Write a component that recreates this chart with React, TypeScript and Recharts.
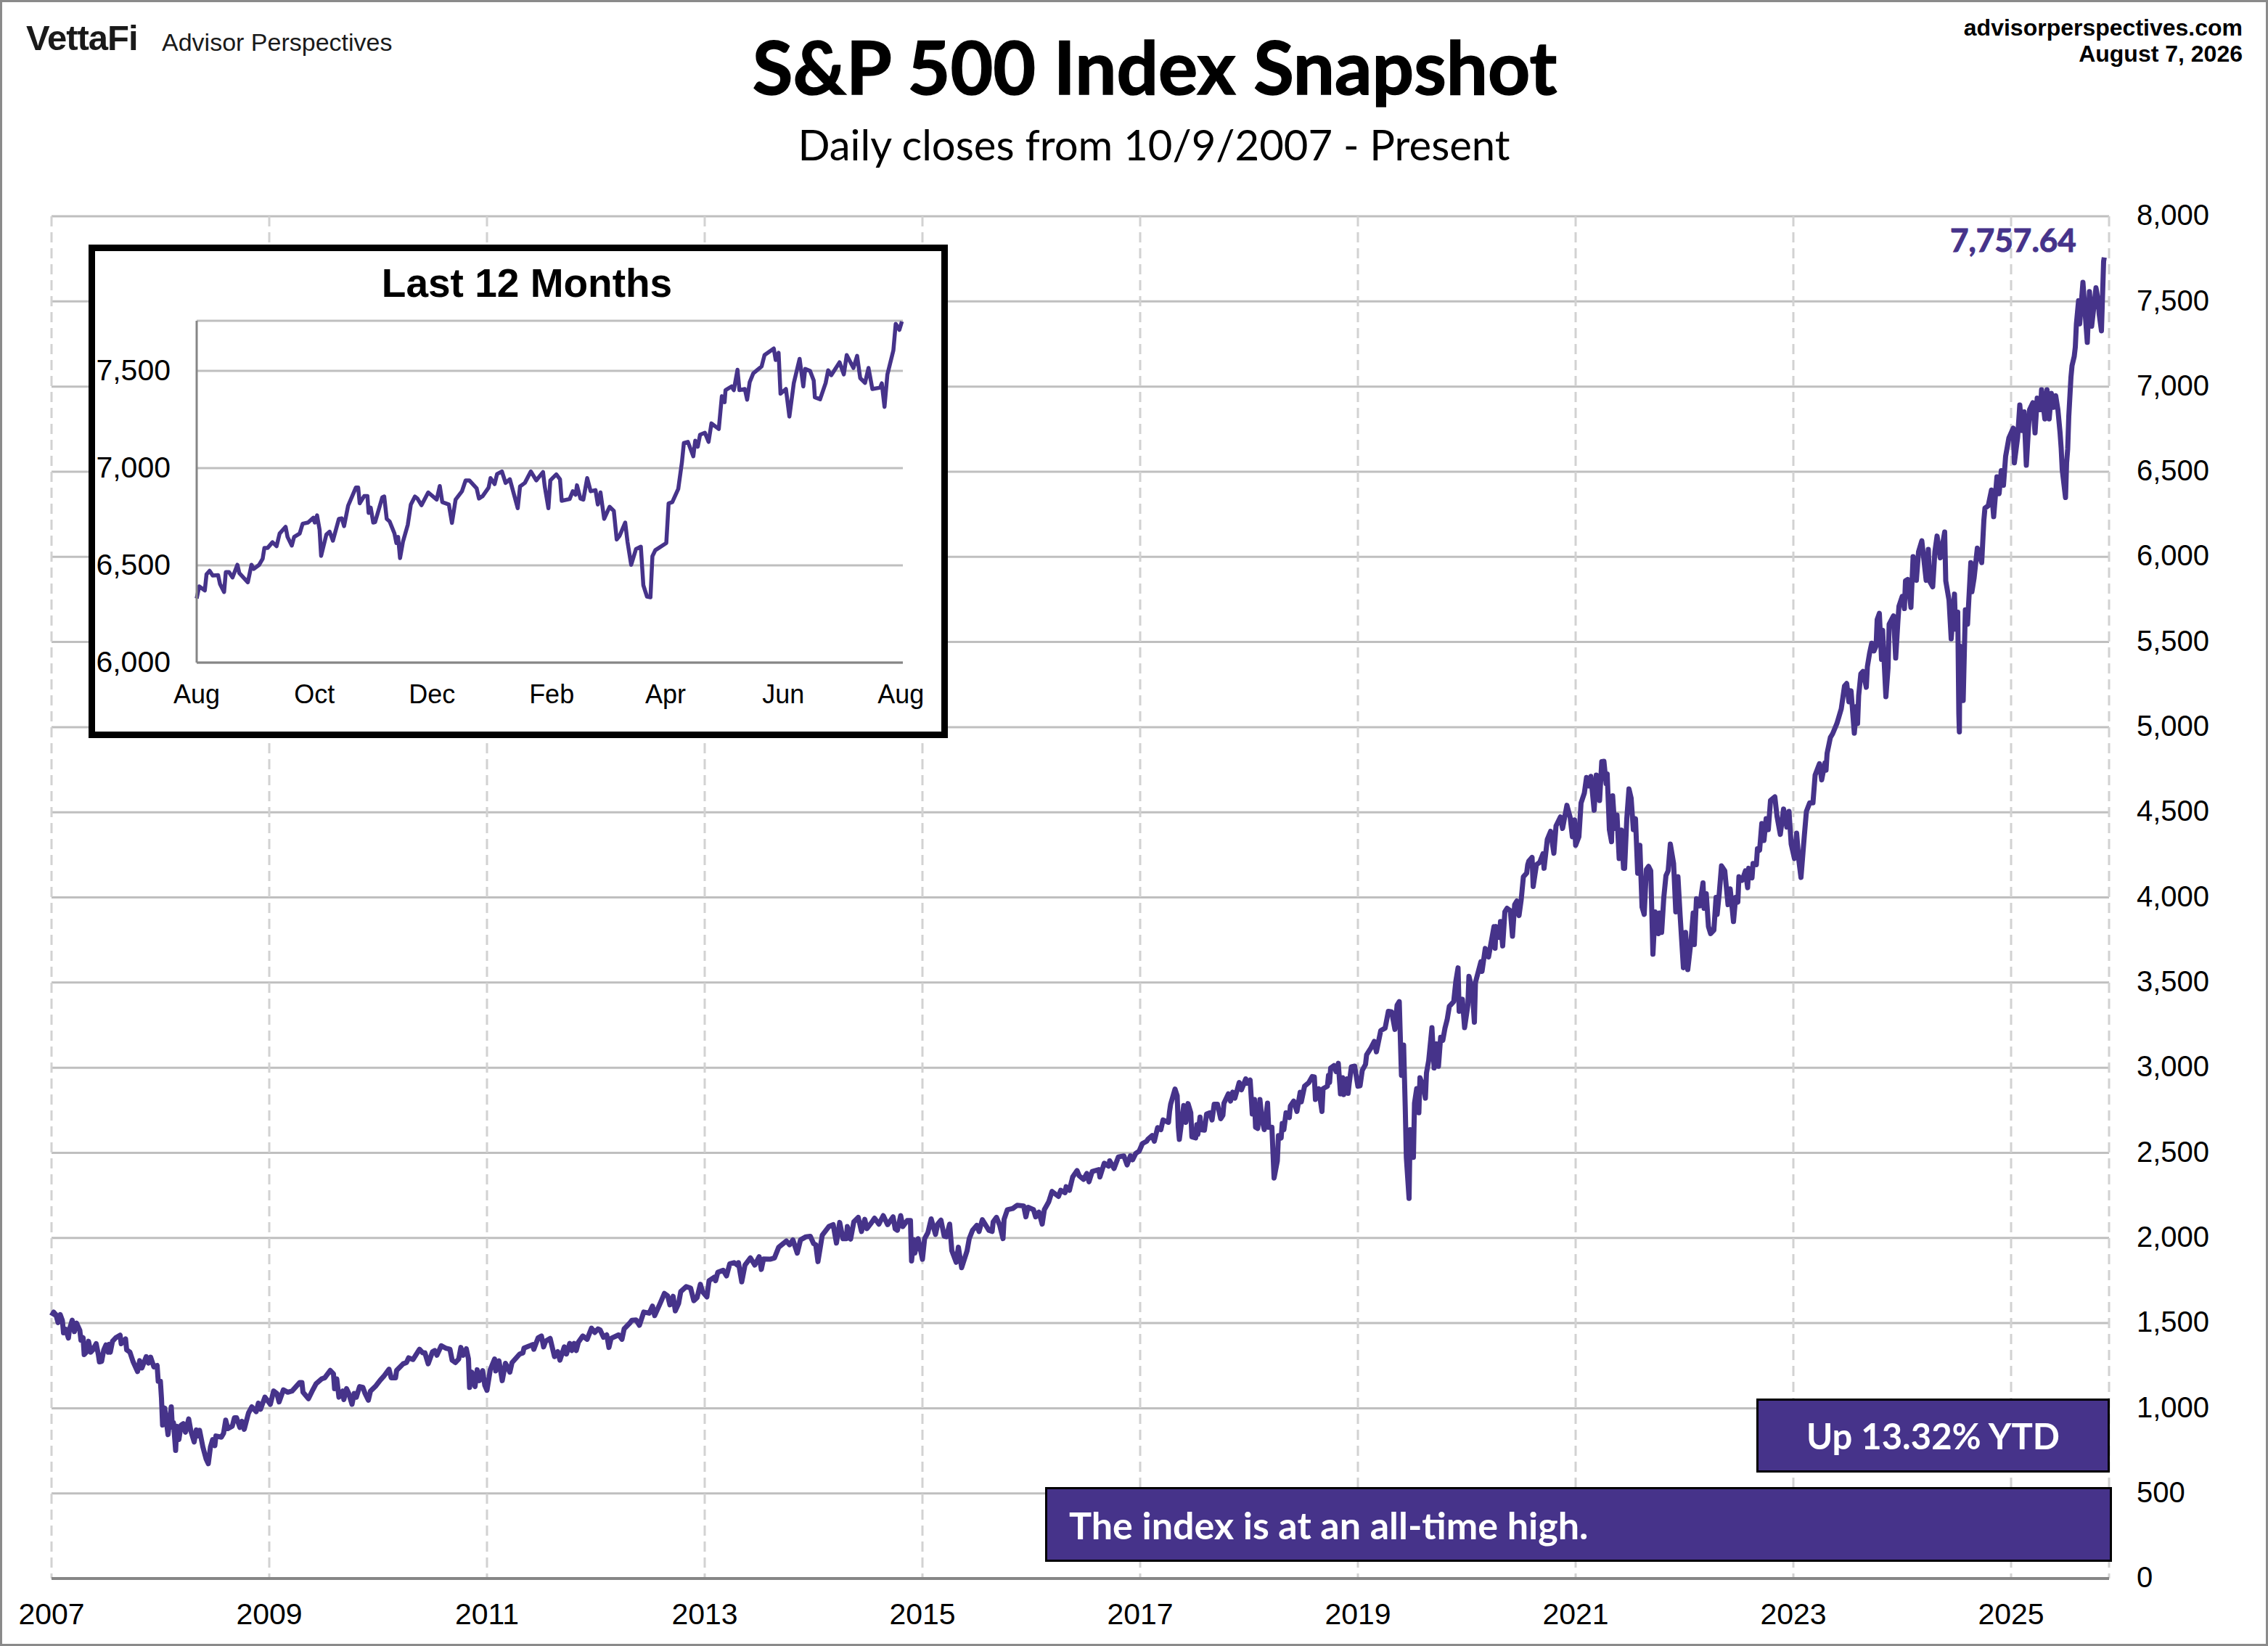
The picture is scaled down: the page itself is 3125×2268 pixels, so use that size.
import { CartesianGrid, Line, LineChart, XAxis, YAxis } from "recharts";

// [position on the year axis, close]
const closes2007to2010: number[][] = [
  [2007.0, 1543], [2007.02, 1564], [2007.04, 1550], [2007.06, 1503], [2007.08, 1550], [2007.1, 1514], [2007.11, 1443], [2007.13, 1464],
  [2007.155, 1412], [2007.165, 1464], [2007.19, 1517], [2007.21, 1450], [2007.23, 1500], [2007.26, 1457], [2007.27, 1400], [2007.29, 1414],
  [2007.3, 1315], [2007.32, 1329], [2007.34, 1393], [2007.36, 1329], [2007.38, 1343], [2007.41, 1379], [2007.43, 1315], [2007.44, 1272],
  [2007.46, 1275], [2007.48, 1343], [2007.5, 1372], [2007.52, 1329], [2007.53, 1375], [2007.54, 1329], [2007.56, 1393], [2007.59, 1414],
  [2007.63, 1429], [2007.64, 1379], [2007.68, 1407], [2007.69, 1343], [2007.72, 1329], [2007.75, 1272], [2007.79, 1215], [2007.81, 1279],
  [2007.83, 1236], [2007.87, 1303], [2007.89, 1265], [2007.91, 1300], [2007.94, 1243], [2007.97, 1251], [2007.98, 1158], [2008.0, 1158],
  [2008.01, 1058], [2008.02, 901], [2008.04, 1001], [2008.07, 845], [2008.1, 1008], [2008.11, 887], [2008.12, 916], [2008.14, 752],
  [2008.15, 894], [2008.17, 816], [2008.19, 901], [2008.21, 909], [2008.23, 859], [2008.26, 937], [2008.28, 866], [2008.31, 802],
  [2008.33, 873], [2008.34, 837], [2008.36, 870], [2008.39, 773], [2008.42, 702], [2008.44, 674], [2008.46, 773], [2008.48, 816],
  [2008.5, 780], [2008.51, 837], [2008.56, 830], [2008.58, 852], [2008.6, 930], [2008.62, 880], [2008.66, 894], [2008.68, 944],
  [2008.7, 944], [2008.73, 887], [2008.75, 923], [2008.77, 876], [2008.81, 973], [2008.84, 1008], [2008.88, 980], [2008.9, 1030],
  [2008.92, 994], [2008.96, 1065], [2009.01, 1023], [2009.04, 1101], [2009.07, 1087], [2009.09, 1037], [2009.13, 1108], [2009.17, 1094],
  [2009.21, 1101], [2009.28, 1151], [2009.3, 1151], [2009.31, 1094], [2009.36, 1056], [2009.4, 1108], [2009.43, 1144], [2009.48, 1172],
  [2009.51, 1179], [2009.56, 1222], [2009.59, 1201], [2009.6, 1115], [2009.62, 1172], [2009.64, 1065], [2009.675, 1101], [2009.685, 1051],
  [2009.71, 1115], [2009.73, 1087], [2009.76, 1023], [2009.78, 1087], [2009.8, 1065], [2009.83, 1127], [2009.86, 1122], [2009.88, 1087],
  [2009.91, 1047], [2009.93, 1101], [2009.98, 1132], [2010.02, 1165], [2010.05, 1186], [2010.1, 1229], [2010.12, 1179], [2010.16, 1179],
  [2010.17, 1222], [2010.23, 1261],
];

const closes2010to2013: number[][] = [
  [2010.26, 1268], [2010.28, 1296], [2010.32, 1286], [2010.38, 1346], [2010.41, 1325], [2010.43, 1325], [2010.46, 1261], [2010.5, 1332],
  [2010.52, 1339], [2010.54, 1311], [2010.58, 1367], [2010.62, 1353], [2010.66, 1346], [2010.68, 1282], [2010.71, 1268], [2010.74, 1289],
  [2010.76, 1357], [2010.78, 1311], [2010.81, 1349], [2010.83, 1289], [2010.84, 1122], [2010.86, 1212], [2010.89, 1127], [2010.91, 1226],
  [2010.93, 1162], [2010.96, 1221], [2010.98, 1134], [2011.0, 1105], [2011.03, 1226], [2011.07, 1289], [2011.08, 1219], [2011.11, 1278],
  [2011.14, 1162], [2011.17, 1264], [2011.21, 1212], [2011.23, 1268], [2011.3, 1318], [2011.33, 1325], [2011.34, 1353], [2011.42, 1374],
  [2011.43, 1346], [2011.47, 1414], [2011.5, 1424], [2011.52, 1360], [2011.54, 1395], [2011.58, 1410], [2011.62, 1303], [2011.65, 1332],
  [2011.67, 1282], [2011.71, 1360], [2011.73, 1318], [2011.76, 1381], [2011.78, 1339], [2011.8, 1381], [2011.82, 1339], [2011.84, 1388],
  [2011.88, 1424], [2011.92, 1405], [2011.96, 1470], [2011.99, 1445], [2012.02, 1466], [2012.04, 1459], [2012.07, 1417], [2012.1, 1431],
  [2012.12, 1357], [2012.14, 1410], [2012.21, 1431], [2012.24, 1405], [2012.26, 1466], [2012.31, 1499], [2012.33, 1516], [2012.37, 1518],
  [2012.4, 1487], [2012.44, 1565], [2012.49, 1558], [2012.52, 1600], [2012.54, 1544], [2012.59, 1615], [2012.63, 1674], [2012.66, 1660],
  [2012.68, 1607], [2012.71, 1657], [2012.73, 1572], [2012.76, 1615], [2012.78, 1685], [2012.83, 1714], [2012.87, 1706], [2012.9, 1632],
  [2012.93, 1650], [2012.96, 1728], [2012.98, 1685], [2013.02, 1654], [2013.04, 1749], [2013.09, 1770], [2013.1, 1749], [2013.12, 1798],
  [2013.17, 1810], [2013.2, 1777], [2013.23, 1848], [2013.27, 1855], [2013.3, 1841], [2013.31, 1855], [2013.34, 1742], [2013.37, 1841],
  [2013.42, 1883], [2013.46, 1841], [2013.5, 1890], [2013.52, 1815], [2013.54, 1876],
];

const closes2013to2016: number[][] = [
  [2013.6, 1875], [2013.64, 1882], [2013.68, 1946], [2013.75, 1982], [2013.78, 1960], [2013.81, 1989], [2013.85, 1911], [2013.88, 1989],
  [2013.93, 2007], [2013.97, 2010], [2014.0, 1967], [2014.02, 1960], [2014.04, 1861], [2014.08, 2017], [2014.14, 2067], [2014.18, 2078],
  [2014.21, 1970], [2014.24, 2091], [2014.27, 1996], [2014.3, 1996], [2014.31, 2067], [2014.34, 1993], [2014.37, 2095], [2014.41, 2121],
  [2014.44, 2038], [2014.47, 2109], [2014.49, 2055], [2014.53, 2088], [2014.56, 2116], [2014.6, 2081], [2014.64, 2131], [2014.68, 2078],
  [2014.73, 2124], [2014.75, 2053], [2014.77, 2045], [2014.8, 2131], [2014.82, 2067], [2014.86, 2102], [2014.89, 2102], [2014.9, 1865],
  [2014.92, 1989], [2014.93, 1911], [2014.96, 1996], [2014.97, 1967], [2015.0, 1875], [2015.02, 1996], [2015.05, 2031], [2015.08, 2112],
  [2015.12, 2021], [2015.14, 2081], [2015.17, 2105], [2015.2, 2010], [2015.22, 2007], [2015.25, 2081], [2015.27, 1925], [2015.31, 1857],
  [2015.33, 1946], [2015.36, 1825], [2015.41, 1925], [2015.43, 1996], [2015.46, 2045], [2015.5, 2074], [2015.52, 2038], [2015.55, 2107],
  [2015.61, 2045], [2015.64, 2038], [2015.65, 2095], [2015.68, 2121], [2015.71, 2074], [2015.74, 1996], [2015.75, 2109], [2015.78, 2166],
  [2015.83, 2173], [2015.87, 2192], [2015.93, 2188], [2015.95, 2124], [2015.97, 2180], [2016.02, 2166], [2016.04, 2124], [2016.07, 2152],
  [2016.1, 2081], [2016.12, 2166], [2016.16, 2212], [2016.19, 2273], [2016.25, 2244], [2016.27, 2280], [2016.31, 2266], [2016.32, 2301],
  [2016.35, 2280], [2016.38, 2358], [2016.42, 2396], [2016.44, 2365], [2016.48, 2344], [2016.51, 2379], [2016.53, 2330], [2016.56, 2391],
  [2016.62, 2401], [2016.63, 2358], [2016.67, 2439], [2016.71, 2422], [2016.72, 2453], [2016.76, 2408], [2016.8, 2476], [2016.85, 2482],
  [2016.88, 2429], [2016.91, 2482],
];

const closes2017to2020: number[][] = [
  [2016.93, 2459], [2016.96, 2497], [2016.99, 2509], [2017.02, 2554], [2017.06, 2568], [2017.07, 2579], [2017.11, 2601], [2017.13, 2568],
  [2017.16, 2648], [2017.19, 2636], [2017.21, 2693], [2017.26, 2679], [2017.27, 2743], [2017.28, 2785], [2017.32, 2874], [2017.34, 2835],
  [2017.35, 2650], [2017.36, 2579], [2017.4, 2778], [2017.42, 2679], [2017.44, 2789], [2017.465, 2735], [2017.475, 2594], [2017.51, 2587],
  [2017.52, 2665], [2017.53, 2608], [2017.55, 2710], [2017.56, 2636], [2017.59, 2633], [2017.61, 2728], [2017.64, 2735], [2017.66, 2693],
  [2017.68, 2785], [2017.71, 2785], [2017.74, 2700], [2017.76, 2721], [2017.77, 2792], [2017.81, 2846], [2017.83, 2804], [2017.85, 2856],
  [2017.87, 2821], [2017.91, 2913], [2017.93, 2870], [2017.97, 2934], [2017.98, 2908], [2018.01, 2927], [2018.03, 2728], [2018.05, 2813],
  [2018.06, 2650], [2018.08, 2643], [2018.1, 2813], [2018.12, 2693], [2018.14, 2636], [2018.17, 2792], [2018.18, 2650], [2018.21, 2650],
  [2018.23, 2352], [2018.26, 2452], [2018.27, 2601], [2018.295, 2587], [2018.305, 2672], [2018.32, 2636], [2018.34, 2735], [2018.37, 2707],
  [2018.38, 2775], [2018.41, 2804], [2018.44, 2743], [2018.47, 2856], [2018.48, 2799], [2018.51, 2891], [2018.55, 2913], [2018.58, 2948],
  [2018.6, 2945], [2018.61, 2813], [2018.64, 2877], [2018.67, 2743], [2018.68, 2877], [2018.72, 2891], [2018.73, 2955], [2018.74, 2913],
  [2018.75, 2998], [2018.78, 3012], [2018.8, 2977], [2018.82, 3026], [2018.84, 2846], [2018.86, 2941], [2018.87, 2842], [2018.9, 2934],
  [2018.91, 2849], [2018.92, 2906], [2018.94, 3005], [2018.97, 3009], [2019.0, 2891], [2019.02, 2894], [2019.04, 2984], [2019.07, 3019],
  [2019.08, 3076], [2019.12, 3116], [2019.15, 3154], [2019.17, 3093], [2019.21, 3218], [2019.25, 3232], [2019.28, 3331], [2019.31, 3328],
  [2019.34, 3225], [2019.36, 3367], [2019.38, 3388], [2019.4, 2955], [2019.42, 3133], [2019.435, 2764], [2019.445, 2473], [2019.47, 2232],
  [2019.48, 2636], [2019.51, 2473], [2019.52, 2792], [2019.54, 2877], [2019.56, 2735], [2019.57, 2941], [2019.6, 2891], [2019.62, 2821],
  [2019.63, 2969], [2019.65, 3040], [2019.68, 3235], [2019.7, 2998], [2019.72, 3140], [2019.74, 3008], [2019.76, 3178], [2019.78, 3161],
  [2019.8, 3232], [2019.82, 3282], [2019.84, 3360], [2019.88, 3388], [2019.9, 3508], [2019.92, 3586], [2019.93, 3331], [2019.96, 3402],
  [2019.98, 3235], [2020.01, 3367], [2020.02, 3537], [2020.05, 3459], [2020.07, 3267], [2020.08, 3501], [2020.13, 3622], [2020.14, 3565],
  [2020.17, 3700], [2020.2, 3650], [2020.22, 3721], [2020.25, 3828],
];

const closes2020to2023: number[][] = [
  [2020.26, 3701], [2020.27, 3829], [2020.3, 3765], [2020.31, 3858], [2020.33, 3715], [2020.35, 3915], [2020.37, 3936], [2020.4, 3922],
  [2020.42, 3772], [2020.44, 3957], [2020.46, 3979], [2020.48, 3893], [2020.5, 3986], [2020.52, 4121], [2020.55, 4142], [2020.56, 4192],
  [2020.57, 4213], [2020.6, 4235], [2020.61, 4064], [2020.64, 4192], [2020.67, 4206], [2020.7, 4256], [2020.71, 4171], [2020.74, 4341],
  [2020.77, 4388], [2020.8, 4259], [2020.82, 4420], [2020.86, 4472], [2020.88, 4405], [2020.92, 4541], [2020.95, 4469], [2020.97, 4356],
  [2020.99, 4455], [2021.0, 4306], [2021.03, 4356], [2021.05, 4555], [2021.08, 4612], [2021.1, 4704], [2021.12, 4654], [2021.14, 4711],
  [2021.17, 4512], [2021.19, 4718], [2021.22, 4569], [2021.24, 4797], [2021.26, 4799], [2021.28, 4669], [2021.29, 4725], [2021.31, 4398],
  [2021.33, 4327], [2021.34, 4597], [2021.36, 4405], [2021.38, 4484], [2021.4, 4228], [2021.42, 4395], [2021.44, 4171], [2021.45, 4171],
  [2021.47, 4462], [2021.49, 4637], [2021.51, 4583], [2021.53, 4398], [2021.55, 4462], [2021.57, 4142], [2021.59, 4306], [2021.61, 3943],
  [2021.63, 3900], [2021.65, 4164], [2021.67, 4182], [2021.69, 4156], [2021.71, 3666], [2021.73, 3915], [2021.76, 3787], [2021.77, 3908],
  [2021.79, 3794], [2021.81, 4000], [2021.83, 4128], [2021.85, 4156], [2021.87, 4313], [2021.9, 4199], [2021.92, 3915], [2021.94, 4121],
  [2021.96, 3893], [2021.99, 3587], [2022.01, 3794], [2022.03, 3576], [2022.06, 3744], [2022.08, 3908], [2022.09, 3723], [2022.11, 3993],
  [2022.14, 3950], [2022.17, 4085], [2022.18, 3936], [2022.2, 4021], [2022.22, 3829], [2022.24, 3787], [2022.27, 3808], [2022.29, 4000],
  [2022.3, 3900], [2022.32, 4028], [2022.34, 4185], [2022.37, 4156], [2022.4, 3957], [2022.42, 4050], [2022.45, 3858], [2022.47, 4000],
  [2022.49, 3972], [2022.5, 4121], [2022.53, 4100], [2022.56, 4156], [2022.58, 4057], [2022.59, 4171], [2022.62, 4114], [2022.63, 4199],
  [2022.66, 4192], [2022.67, 4285], [2022.69, 4277], [2022.71, 4434], [2022.73, 4334], [2022.75, 4462], [2022.77, 4398], [2022.79, 4569],
  [2022.83, 4590], [2022.85, 4476], [2022.88, 4370], [2022.91, 4519], [2022.94, 4413], [2022.96, 4505], [2022.98, 4313], [2023.01, 4228],
  [2023.03, 4377], [2023.05, 4220], [2023.07, 4117], [2023.1, 4356], [2023.12, 4505], [2023.15, 4555], [2023.18, 4555], [2023.2, 4718],
  [2023.24, 4785], [2023.26, 4690], [2023.29, 4789], [2023.3, 4747], [2023.31, 4846], [2023.34, 4939], [2023.36, 4960],
];

const closes2023to2026: number[][] = [
  [2023.4, 5021], [2023.44, 5107], [2023.47, 5241], [2023.49, 5256], [2023.51, 5149], [2023.53, 5213], [2023.56, 4964], [2023.58, 5121],
  [2023.59, 5021], [2023.6, 5185], [2023.62, 5313], [2023.64, 5327], [2023.67, 5234], [2023.68, 5355], [2023.7, 5433], [2023.72, 5493],
  [2023.74, 5447], [2023.76, 5476], [2023.77, 5632], [2023.79, 5668], [2023.81, 5398], [2023.82, 5568], [2023.85, 5178], [2023.87, 5348],
  [2023.88, 5604], [2023.92, 5653], [2023.94, 5405], [2023.96, 5618], [2023.97, 5710], [2024.0, 5767], [2024.02, 5696], [2024.03, 5859],
  [2024.05, 5867], [2024.08, 5703], [2024.1, 6001], [2024.13, 5862], [2024.15, 6030], [2024.18, 6094], [2024.22, 5862], [2024.24, 6044],
  [2024.25, 5859], [2024.28, 5824], [2024.3, 6030], [2024.32, 6122], [2024.35, 5994], [2024.39, 6146], [2024.4, 5859], [2024.43, 5746],
  [2024.45, 5518], [2024.48, 5781], [2024.49, 5575], [2024.51, 5675], [2024.52, 5078], [2024.525, 4972], [2024.53, 5476], [2024.56, 5156],
  [2024.58, 5689], [2024.6, 5604], [2024.63, 5966], [2024.64, 5795], [2024.66, 5874], [2024.69, 6051], [2024.73, 5966], [2024.75, 6215],
  [2024.76, 6286], [2024.79, 6300], [2024.82, 6392], [2024.84, 6236], [2024.87, 6470], [2024.89, 6371], [2024.91, 6506], [2024.93, 6420],
  [2024.95, 6591], [2024.98, 6698], [2025.02, 6756], [2025.03, 6552], [2025.06, 6701], [2025.08, 6892], [2025.1, 6742], [2025.12, 6851],
  [2025.14, 6538], [2025.17, 6864], [2025.2, 6905], [2025.22, 6728], [2025.24, 6932], [2025.27, 6864], [2025.28, 6981], [2025.31, 6810],
  [2025.33, 6981], [2025.35, 6810], [2025.37, 6960], [2025.39, 6878], [2025.41, 6946], [2025.43, 6864], [2025.45, 6728], [2025.46, 6639],
  [2025.47, 6511], [2025.5, 6348], [2025.51, 6552], [2025.52, 6633], [2025.53, 6824], [2025.55, 7055], [2025.56, 7123], [2025.58, 7177],
  [2025.59, 7232], [2025.6, 7368], [2025.62, 7504], [2025.63, 7368], [2025.66, 7612], [2025.7, 7259], [2025.72, 7558], [2025.74, 7354],
  [2025.78, 7580], [2025.8, 7504], [2025.81, 7422], [2025.83, 7327], [2025.85, 7735], [2025.856, 7758],
];

// [days since the start of the window, close]
const last12Months: number[][] = [
  [0, 6330], [1.3, 6392], [4.2, 6371], [5.1, 6454], [6.7, 6472], [8.3, 6448], [11.1, 6450], [12.1, 6404], [14.2, 6363], [15.1, 6466],
  [16.7, 6466], [18.6, 6438], [21.1, 6503], [22.1, 6460], [26.5, 6413], [28.4, 6503], [29.6, 6482], [32.4, 6503], [34.2, 6534], [35.1, 6590],
  [36.8, 6590], [39.3, 6619], [41.4, 6599], [43, 6664], [46.1, 6698], [47.1, 6646], [49.3, 6602], [50.5, 6646], [53.4, 6664], [54.9, 6714],
  [57.7, 6720], [60.5, 6745], [61.2, 6720], [62.4, 6757], [63.7, 6683], [64.5, 6549], [67.2, 6658], [68.9, 6673], [70.6, 6627], [73.7, 6739],
  [75.2, 6742], [76.4, 6702], [78.5, 6807], [82.5, 6900], [83.7, 6900], [84.5, 6819], [86.8, 6856], [88.5, 6856], [89.1, 6770], [90.2, 6797],
  [91.5, 6720], [92.5, 6723], [96.2, 6850], [97.2, 6854], [98.5, 6739], [100, 6726], [102.5, 6664], [103.5, 6615], [104.4, 6646], [105.4, 6537],
  [106.9, 6621], [109.4, 6708], [111, 6813], [113.1, 6854], [114.4, 6844], [116.5, 6809], [120, 6875], [124.4, 6838], [126, 6908], [127.3, 6825],
  [130.7, 6813], [132.3, 6718], [134.2, 6838], [137.5, 6881], [139.4, 6937], [141.3, 6937], [145.1, 6896], [146.3, 6844], [148.2, 6856], [151.3, 6900],
  [152.3, 6949], [154.4, 6918], [155.7, 6970], [158.2, 6983], [160.1, 6924], [162.3, 6943], [166.4, 6794], [167.6, 6906], [170.1, 6924], [173.2, 6983],
  [176, 6937], [179.5, 6980], [180.4, 6906], [182.3, 6794], [183.3, 6937], [186.4, 6968], [188.3, 6943], [189.2, 6832], [193.3, 6841], [194.9, 6881],
  [196.4, 6863], [197.1, 6912], [198.9, 6844], [200.4, 6838], [202.4, 6949], [204.2, 6881], [206.7, 6887], [207.9, 6813], [209.3, 6875], [211.2, 6739],
  [214, 6801], [216.2, 6780], [217.7, 6633], [219.2, 6652], [222.1, 6720], [223.3, 6621], [225.2, 6503], [227.7, 6584], [230.2, 6596], [231.5, 6398],
  [233.4, 6339], [235.2, 6336], [236.2, 6547], [237.7, 6578], [243.4, 6615], [244.6, 6819], [246.5, 6825], [249.6, 6893], [251.5, 7030], [252.5, 7129],
  [254.6, 7135], [257.4, 7061], [258.4, 7141], [259.7, 7110], [260.9, 7172], [263.4, 7182], [265.3, 7135], [266.8, 7230], [270.6, 7201], [272.2, 7370],
  [273.6, 7339], [274.1, 7401], [277.2, 7420], [278.4, 7401], [280.3, 7506], [281.3, 7401], [284.1, 7407], [285.3, 7352], [286.6, 7441], [288.5, 7488],
  [292.8, 7523], [294.3, 7581], [299.1, 7615], [300.1, 7556], [301.6, 7593], [302.6, 7383], [305.4, 7407], [307.2, 7265], [309.5, 7438], [312.5, 7562],
  [314.4, 7420], [315.4, 7510], [317.9, 7500], [319.8, 7451], [320.4, 7364], [323.1, 7354], [326, 7438], [327.3, 7503], [328.9, 7478], [333.2, 7544],
  [335.4, 7482], [336.9, 7581], [340.4, 7515], [342.3, 7577], [343.9, 7463], [346.4, 7438], [348.2, 7515], [350.2, 7407], [354.2, 7414], [355.1, 7436],
  [356.5, 7315], [358, 7482], [361.1, 7606], [362.3, 7742], [364.2, 7711], [365.5, 7754],
];

const yearTicks = [2007, 2009, 2011, 2013, 2015, 2017, 2019, 2021, 2023, 2025];
const priceTicks = [0, 500, 1000, 1500, 2000, 2500, 3000, 3500, 4000, 4500, 5000, 5500, 6000, 6500, 7000, 7500, 8000];
const insetPriceTicks = [6000, 6500, 7000, 7500];
const insetDayTicks = [0, 61, 122, 184, 243, 304, 365];
const insetMonthLabels = ["Aug", "Oct", "Dec", "Feb", "Apr", "Jun", "Aug"];

const PURPLE = "#46338a";
const GRID = "#bfbfbf";
const AXIS = "#868686";
const ARIAL = "'Liberation Sans', Arial, sans-serif";
const CALIBRI = "Lato, 'Open Sans', sans-serif";

const mainData = [
  ...closes2007to2010,
  ...closes2010to2013,
  ...closes2013to2016,
  ...closes2017to2020,
  ...closes2020to2023,
  ...closes2023to2026,
].map(([x, close]) => ({ x, close }));
const insetData = last12Months.map(([day, close]) => ({ day, close }));

const fmt = (v: number) => v.toLocaleString("en-US");

function Label(props: { left?: number; right?: number; top: number; style: React.CSSProperties; children: React.ReactNode }) {
  const { left, right, top, style, children } = props;
  return <div style={{ position: "absolute", left, right, top, whiteSpace: "nowrap", ...style }}>{children}</div>;
}

function Banner(props: { left: number; top: number; width: number; height: number; align: "left" | "center"; pad?: number; fontSize: number; text: string }) {
  const { left, top, width, height, align, pad, fontSize, text } = props;
  return (
    <div
      style={{
        position: "absolute", left, top, width, height, boxSizing: "border-box", background: PURPLE, border: "3px solid #000",
        color: "#fff", fontFamily: CALIBRI, fontWeight: 700, fontSize, display: "flex", alignItems: "center",
        justifyContent: align === "center" ? "center" : "flex-start", paddingLeft: pad ?? 0,
      }}
    >
      {text}
    </div>
  );
}

export default function App() {
  return (
    <div style={{ position: "absolute", left: 0, top: 0, width: 3125, height: 2268, background: "#fff", overflow: "hidden" }}>
      <LineChart width={3125} height={2268} data={mainData} margin={{ top: 298, right: 0, bottom: 0, left: 71 }}>
        <CartesianGrid stroke={GRID} strokeWidth={3} vertical={false} />
        <CartesianGrid stroke="#d2d2d2" strokeWidth={3} strokeDasharray="14 8" horizontal={false} />
        <XAxis
          dataKey="x" type="number" domain={[2007, 2025.9]} ticks={yearTicks} interval={0} height={93} tickLine={false} tickSize={0} tickMargin={34}
          stroke={AXIS} strokeWidth={4} tick={{ fill: "#000", fontSize: 41, fontFamily: ARIAL }} tickFormatter={(v) => String(v)}
        />
        <YAxis
          orientation="right" type="number" domain={[0, 8000]} ticks={priceTicks} interval={0} width={219} axisLine={false} tickLine={false}
          tickSize={0} tickMargin={38} tick={{ fill: "#000", fontSize: 40, fontFamily: ARIAL, textAnchor: "start", dy: -2 }} tickFormatter={fmt}
        />
        <Line dataKey="close" type="linear" stroke={PURPLE} strokeWidth={7} strokeLinejoin="round" dot={false} isAnimationActive={false} />
      </LineChart>

      {/* frame around the whole image */}
      <div style={{ position: "absolute", inset: 0, border: "3px solid #8a8a8a", boxSizing: "border-box", pointerEvents: "none" }} />

      <Label left={36} top={24} style={{ fontFamily: ARIAL, fontWeight: 700, fontSize: 49, letterSpacing: -1, color: "#1a1a1a" }}>VettaFi</Label>
      <Label left={223} top={39} style={{ fontFamily: ARIAL, fontSize: 34, color: "#1a1a1a" }}>Advisor Perspectives</Label>
      <Label right={35} top={20} style={{ fontFamily: ARIAL, fontWeight: 700, fontSize: 32, lineHeight: "36px", textAlign: "right", color: "#000" }}>
        advisorperspectives.com<br />August 7, 2026
      </Label>
      <Label left={0} top={30} style={{ textAlign: "center", fontFamily: CALIBRI, fontWeight: 700, fontSize: 101.5, color: "#000", width: 3182, WebkitTextStroke: "1.5px #000" }}>
        S&amp;P 500 Index Snapshot
      </Label>
      <Label left={0} top={164} style={{ textAlign: "center", fontFamily: CALIBRI, fontSize: 58, color: "#000", width: 3180 }}>
        Daily closes from 10/9/2007 - Present
      </Label>
      <Label left={2687} top={304} style={{ fontFamily: CALIBRI, fontWeight: 700, fontSize: 44, color: PURPLE, WebkitTextStroke: "1px " + PURPLE }}>7,757.64</Label>

      {/* inset */}
      <div style={{ position: "absolute", left: 122, top: 337, width: 1184, height: 680, boxSizing: "border-box", border: "9px solid #000", background: "#fff" }}>
        <div style={{ position: "absolute", left: 24, right: 0, top: 12, textAlign: "center", fontFamily: ARIAL, fontWeight: 700, fontSize: 55, color: "#000" }}>
          Last 12 Months
        </div>
        <LineChart width={1166} height={662} data={insetData} margin={{ top: 96, right: 53, bottom: 0, left: 0 }}>
          <CartesianGrid stroke={GRID} strokeWidth={3} vertical={false} />
          <XAxis
            dataKey="day" type="number" domain={[0, 366]} ticks={insetDayTicks} interval={0} height={95} tickLine={false} tickSize={0} tickMargin={30} stroke={AXIS} strokeWidth={3}
            tick={{ fill: "#000", fontSize: 36, fontFamily: ARIAL }} tickFormatter={(v) => insetMonthLabels[insetDayTicks.indexOf(v)]}
          />
          <YAxis
            type="number" domain={[6000, 7757.64]} ticks={insetPriceTicks} interval={0} width={140} tickLine={false} tickSize={0} tickMargin={36} stroke={AXIS} strokeWidth={3}
            tick={{ fill: "#000", fontSize: 41, fontFamily: ARIAL, dy: -2 }} tickFormatter={fmt}
          />
          <Line dataKey="close" type="linear" stroke={PURPLE} strokeWidth={5.5} strokeLinejoin="round" dot={false} isAnimationActive={false} />
        </LineChart>
      </div>

      <Banner left={2420} top={1927} width={487} height={102} align="center" fontSize={49} text="Up 13.32% YTD" />
      <Banner left={1440} top={2049} width={1470} height={103} align="left" pad={30} fontSize={52} text="The index is at an all-time high." />
    </div>
  );
}
